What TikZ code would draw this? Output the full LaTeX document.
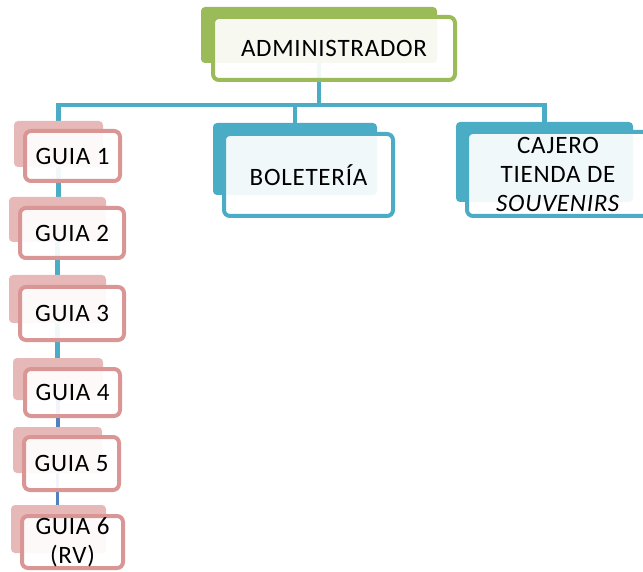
\documentclass[tikz,border=0pt]{standalone}
\usepackage{fontspec}
\setmainfont{Carlito}[LetterSpace=3]
\pgfdeclarelayer{bg}
\pgfsetlayers{bg,main}
\definecolor{grn}{HTML}{9BBB59}
\definecolor{tl}{HTML}{4BACC6}
\definecolor{pkb}{HTML}{E6B9B8}
\definecolor{pkf}{HTML}{D99694}
\definecolor{bl}{HTML}{4F81BD}
\tikzset{
  backbox/.style={fill=#1, rounded corners=4pt, inner sep=0pt},
  frontbox/.style={draw=#1, line width=4pt, fill=white, fill opacity=0.92, text opacity=1,
    rounded corners=6pt, inner sep=0pt, align=center, font=\fontsize{25}{29}\selectfont},
  conn/.style={draw=tl, line width=4.5pt},
  conn2/.style={draw=bl, line width=3.5pt},
}
\begin{document}
\begin{tikzpicture}[x=1pt,y=-1pt]
\useasboundingbox (0,0) rectangle (643,572);
\clip (0,0) rectangle (643,572);
% ADMINISTRADOR
\node[backbox=grn, minimum width=236pt, minimum height=56pt] (admb) at (319,35) {};
\node[frontbox=grn, minimum width=242pt, minimum height=63pt] (adm) at (334,48.5) {ADMINISTRADOR};
% BOLETERIA
\node[backbox=tl, minimum width=164pt, minimum height=72pt] (bolb) at (295,159) {};
\node[frontbox=tl, minimum width=169pt, minimum height=82pt] (bol) at (308.5,175) {BOLETERÍA};
% CAJERO
\node[backbox=tl, minimum width=177pt, minimum height=80pt] (cajb) at (544.5,162) {};
\node[frontbox=tl, minimum width=182pt, minimum height=84pt] (caj) at (558,174) {CAJERO\\TIENDA DE\\\textit{SOUVENIRS}};
% GUIAS
\node[backbox=pkb, minimum width=89pt, minimum height=46pt] (g1b) at (58.5,144) {};
\node[frontbox=pkf, minimum width=95pt, minimum height=50pt] (g1) at (72.5,156) {GUIA 1};
\node[backbox=pkb, minimum width=97pt, minimum height=45pt] (g2b) at (57.5,219.5) {};
\node[frontbox=pkf, minimum width=104pt, minimum height=50pt] (g2) at (72,233) {GUIA 2};
\node[backbox=pkb, minimum width=97pt, minimum height=48pt] (g3b) at (57.5,299) {};
\node[frontbox=pkf, minimum width=104pt, minimum height=53pt] (g3) at (72,313.5) {GUIA 3};
\node[backbox=pkb, minimum width=90pt, minimum height=42pt] (g4b) at (58,379) {};
\node[frontbox=pkf, minimum width=95pt, minimum height=47pt] (g4) at (72.5,392.5) {GUIA 4};
\node[backbox=pkb, minimum width=89pt, minimum height=46pt] (g5b) at (57.5,450) {};
\node[frontbox=pkf, minimum width=95pt, minimum height=53pt] (g5) at (71.5,463.5) {GUIA 5};
\node[backbox=pkb, minimum width=95pt, minimum height=48pt] (g6b) at (58.5,529) {};
\node[frontbox=pkf, minimum width=101pt, minimum height=52pt] (g6) at (72.5,542) {GUIA 6\\(RV)};
% connectors
\begin{pgfonlayer}{bg}
\coordinate (hb) at (319,105);
\draw[conn] (admb.south) -- (hb);
\draw[conn] (g1b.north) |- (hb) -| (cajb.north);
\draw[conn] (bolb.north) -- (bolb.north |- hb);
\draw[conn] (g1b.south) -- (g1b.south |- g2b.north);
\draw[conn] (g2b.south) -- (g2b.south |- g3b.north);
\draw[conn] (g3b.south) -- (g3b.south |- g4b.north);
\draw[conn2] (g4b.south) -- (g4b.south |- g5b.north);
\draw[conn2] (g5b.south) -- (g5b.south |- g6b.north);
\end{pgfonlayer}
\end{tikzpicture}
\end{document}
